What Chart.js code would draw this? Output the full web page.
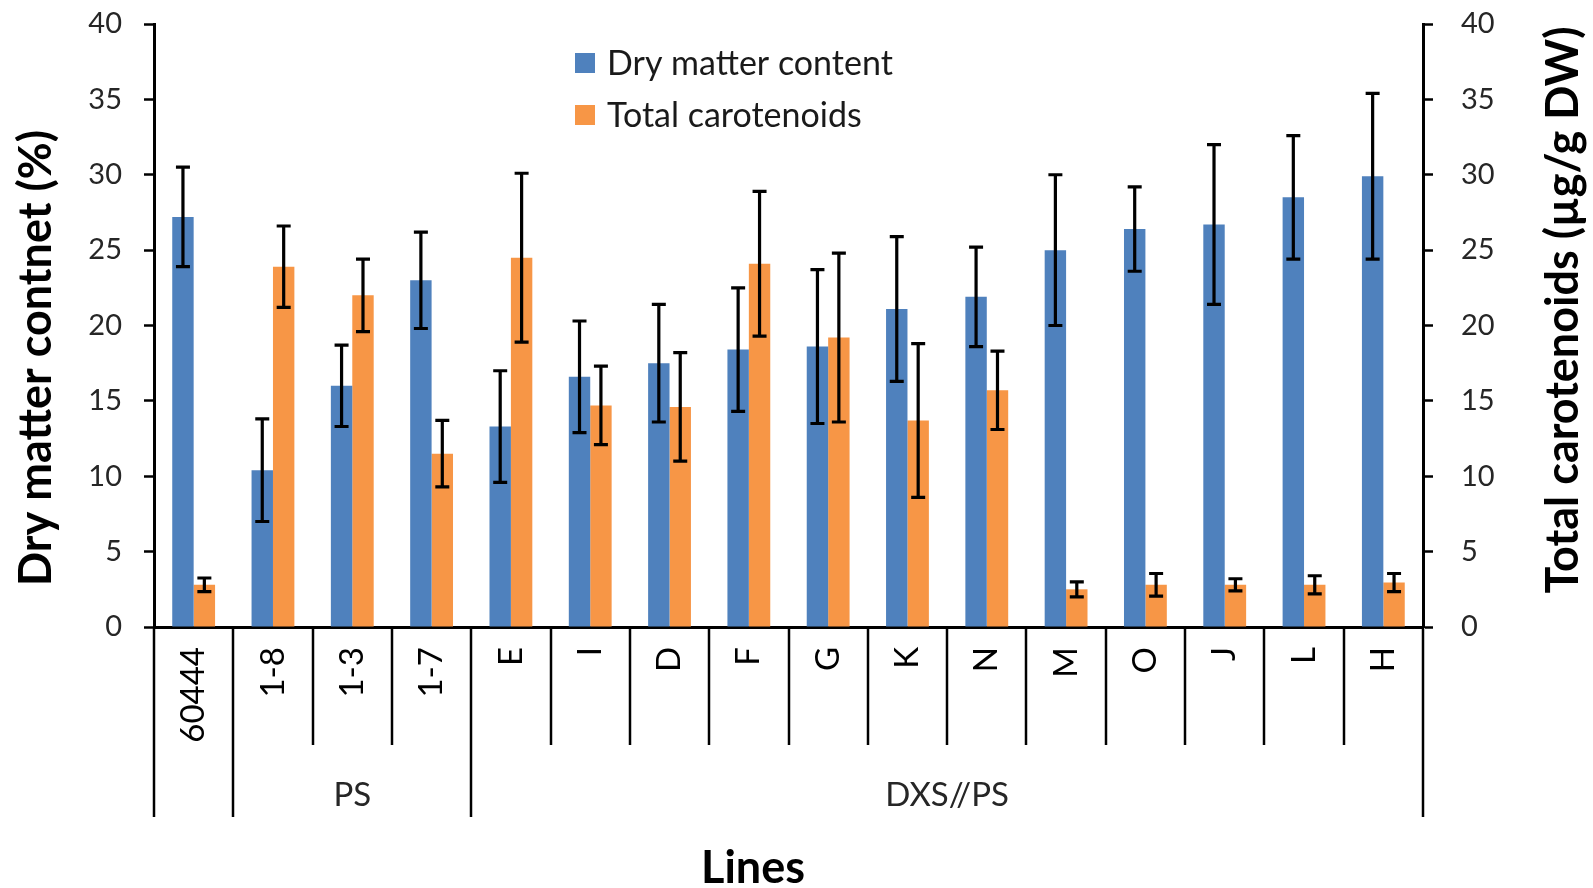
<!DOCTYPE html>
<html lang="en">
<head>
<meta charset="UTF-8">
<title>Dry matter and total carotenoids by line</title>
<style>
    html, body {
        margin: 0;
        padding: 0;
        background: #fff;
        overflow: hidden;
    }
    .chart-box {
        position: relative;
        width: 1593px;
        height: 888px;
    }
</style>
</head>
<body>
<div class="chart-box">
    <canvas id="linesChart"></canvas>
</div>

<script src="https://cdn.jsdelivr.net/npm/chart.js"></script>
<script>
// lines (x categories) and their groups
const lines = ['60444', '1-8', '1-3', '1-7', 'E', 'I', 'D', 'F', 'G', 'K', 'N', 'M', 'O', 'J', 'L', 'H'];
const groupNames = ['', 'PS', 'DXS//PS'];
const groupStart = [0, 1, 4];   // first line index of each group

// dry matter content, %  (mean and SD)
const dryMatter    = [27.2, 10.4, 16.0, 23.0, 13.3, 16.6, 17.5, 18.4, 18.6, 21.1, 21.9, 25.0, 26.4, 26.7, 28.5, 29.9];
const dryMatterErr = [3.3, 3.4, 2.7, 3.2, 3.7, 3.7, 3.9, 4.1, 5.1, 4.8, 3.3, 5.0, 2.8, 5.3, 4.1, 5.5];

// total carotenoids, ug/g DW  (mean and SD)
const carotenoids    = [2.8, 23.9, 22.0, 11.5, 24.5, 14.7, 14.6, 24.1, 19.2, 13.7, 15.7, 2.5, 2.8, 2.8, 2.8, 2.95];
const carotenoidsErr = [0.45, 2.7, 2.4, 2.2, 5.6, 2.6, 3.6, 4.8, 5.6, 5.1, 2.6, 0.5, 0.75, 0.4, 0.6, 0.6];

// both value axes run 0..40 in steps of 5
const axisMin = 0;
const axisMax = 40;
const axisStep = 5;

const FONT = 'Lato, "Open Sans", sans-serif';

// whiskers for each bar, read from the errors array attached to the dataset
const errorBarsPlugin = {
    id: 'errorBars',
    afterDatasetsDraw(chart) {
        const ctx = chart.ctx;
        ctx.save();
        ctx.strokeStyle = '#000';
        ctx.lineWidth = 3.2;
        chart.data.datasets.forEach((ds, di) => {
            const meta = chart.getDatasetMeta(di);
            const yScale = chart.scales[meta.yAxisID];
            meta.data.forEach((bar, i) => {
                const v = ds.data[i];
                const e = ds.errors[i];
                const yTop = yScale.getPixelForValue(v + e);
                const yBot = yScale.getPixelForValue(v - e);
                const cap = 7;
                ctx.beginPath();
                ctx.moveTo(bar.x, yTop);
                ctx.lineTo(bar.x, yBot);
                ctx.moveTo(bar.x - cap, yTop);
                ctx.lineTo(bar.x + cap, yTop);
                ctx.moveTo(bar.x - cap, yBot);
                ctx.lineTo(bar.x + cap, yBot);
                ctx.stroke();
            });
        });
        ctx.restore();
    }
};

// two-level category axis: separators, group names, titles and legend
const decorPlugin = {
    id: 'decor',
    afterDraw(chart) {
        const ctx = chart.ctx;
        const area = chart.chartArea;
        const x = chart.scales.x;
        const n = lines.length;

        const edge = i => {
            if (i === 0) return area.left;
            if (i === n) return area.right;
            return (x.getPixelForValue(i - 1) + x.getPixelForValue(i)) / 2;
        };

        ctx.save();
        ctx.strokeStyle = '#000';
        ctx.lineWidth = 2.5;
        for (let i = 0; i <= n; i++) {
            const isGroupEdge = i === n || groupStart.includes(i);
            const xp = Math.round(edge(i));
            ctx.beginPath();
            ctx.moveTo(xp, area.bottom);
            ctx.lineTo(xp, area.bottom + (isGroupEdge ? 190 : 118));
            ctx.stroke();
        }

        ctx.fillStyle = '#262626';
        ctx.textAlign = 'center';
        ctx.textBaseline = 'middle';
        ctx.font = '33px ' + FONT;
        groupNames.forEach((name, g) => {
            if (!name) return;
            const from = groupStart[g];
            const to = g + 1 < groupStart.length ? groupStart[g + 1] : n;
            ctx.fillText(name, (edge(from) + edge(to)) / 2, area.bottom + 168);
        });

        // axis titles
        ctx.fillStyle = '#000';
        ctx.font = 'bold 45px ' + FONT;
        ctx.fillText('Lines', 753, 868);

        ctx.save();
        ctx.translate(36, 358);
        ctx.rotate(-Math.PI / 2);
        ctx.fillText('Dry matter contnet (%)', 0, 0);
        ctx.restore();

        ctx.save();
        ctx.translate(1563, 310);
        ctx.rotate(-Math.PI / 2);
        ctx.fillText('Total carotenoids (\u00b5g/g DW)', 0, 0);
        ctx.restore();

        // legend
        ctx.font = '34px ' + FONT;
        ctx.textAlign = 'left';
        chart.data.datasets.forEach((ds, i) => {
            const cy = 63 + i * 52;
            ctx.fillStyle = ds.backgroundColor;
            ctx.fillRect(575, cy - 10, 20, 20);
            ctx.fillStyle = '#1a1a1a';
            ctx.fillText(ds.label, 607, cy + 1);
        });
        ctx.restore();
    }
};

const valueAxis = (position, labelPad, width) => ({
    type: 'linear',
    position: position,
    min: axisMin,
    max: axisMax,
    ticks: {
        stepSize: axisStep,
        padding: labelPad,
        color: '#262626',
        font: { family: FONT, size: 29 }
    },
    grid: {
        drawOnChartArea: false,
        drawTicks: true,
        tickLength: 10,
        tickWidth: 2.5,
        tickColor: '#000'
    },
    border: { display: true, color: '#000', width: 3 },
    afterFit(scale) {
        scale.width = width;
        // only half a label above the top tick, not the label gap as well
        scale.paddingTop = 17;
        scale.paddingBottom = 17;
    }
});

new Chart(document.getElementById('linesChart'), {
    type: 'bar',
    data: {
        labels: lines,
        datasets: [
            {
                label: 'Dry matter content',
                data: dryMatter,
                errors: dryMatterErr,
                backgroundColor: '#4F81BD',
                yAxisID: 'y',
                categoryPercentage: 0.54,
                barPercentage: 1.0
            },
            {
                label: 'Total carotenoids',
                data: carotenoids,
                errors: carotenoidsErr,
                backgroundColor: '#F79646',
                yAxisID: 'y1',
                categoryPercentage: 0.54,
                barPercentage: 1.0
            }
        ]
    },
    options: {
        responsive: true,
        maintainAspectRatio: false,
        animation: false,
        layout: { padding: { top: 24, left: 0, right: 0, bottom: 0 } },
        plugins: {
            legend: { display: false },
            tooltip: { enabled: false }
        },
        scales: {
            x: {
                offset: true,
                grid: { display: false, drawTicks: false },
                border: { display: true, color: '#000', width: 3 },
                ticks: {
                    autoSkip: false,
                    minRotation: 90,
                    maxRotation: 90,
                    padding: 20,
                    color: '#000',
                    font: { family: FONT, size: 33 }
                },
                afterFit(scale) { scale.height = 888 - 627; }
            },
            y: valueAxis('left', 22, 154),
            y1: valueAxis('right', 28, 1593 - 1423)
        }
    },
    plugins: [errorBarsPlugin, decorPlugin]
});
</script>
</body>
</html>
